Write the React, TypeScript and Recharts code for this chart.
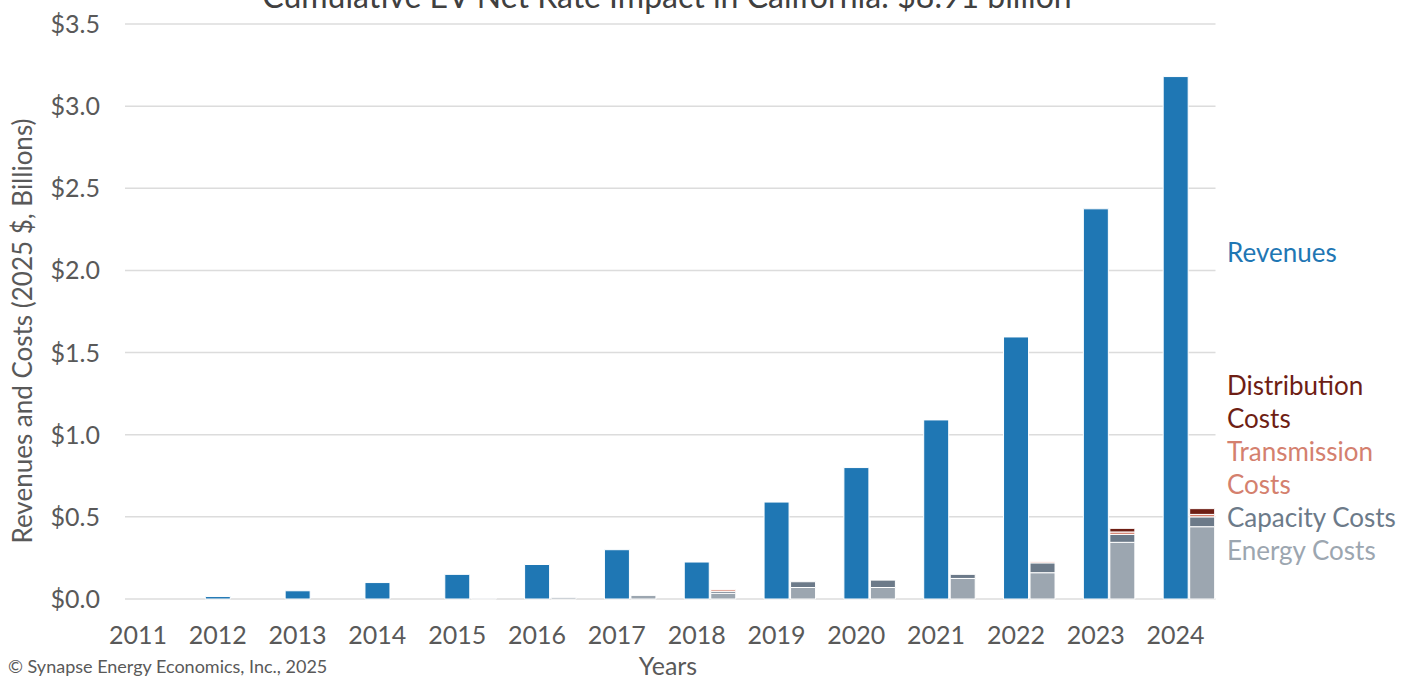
import { BarChart, Bar, XAxis, YAxis, CartesianGrid } from "recharts";

const years = ["2011", "2012", "2013", "2014", "2015", "2016", "2017", "2018", "2019", "2020", "2021", "2022", "2023", "2024"];
const revenues = [0, 0.015, 0.05, 0.1, 0.15, 0.21, 0.3, 0.225, 0.59, 0.8, 1.09, 1.595, 2.375, 3.18];
const energyCosts = [0, 0, 0, 0, 0.005, 0.01, 0.022, 0.035, 0.07, 0.07, 0.125, 0.16, 0.345, 0.44];
const capacityCosts = [0, 0, 0, 0, 0, 0, 0, 0.012, 0.035, 0.045, 0.025, 0.06, 0.048, 0.06];
const transmissionCosts = [0, 0, 0, 0, 0, 0, 0, 0.01, 0, 0, 0, 0.006, 0.015, 0.015];
const distributionCosts = [0, 0, 0, 0, 0, 0, 0, 0, 0, 0, 0, 0, 0.022, 0.035];
const yTicks = [0, 0.5, 1, 1.5, 2, 2.5, 3, 3.5];

const legendItems = [
  { lines: ["Revenues"], color: "#1f77b4", gapAfter: 100 },
  { lines: ["Distribution", "Costs"], color: "#6e1e14", gapAfter: 0 },
  { lines: ["Transmission", "Costs"], color: "#d4806e", gapAfter: 0 },
  { lines: ["Capacity Costs"], color: "#6c7a89", gapAfter: 0 },
  { lines: ["Energy Costs"], color: "#9ca6b0", gapAfter: 0 },
];

const data = years.map((year, i) => ({
  year,
  revenues: revenues[i],
  energy: energyCosts[i],
  capacity: capacityCosts[i],
  transmission: transmissionCosts[i],
  distribution: distributionCosts[i],
}));

const FONT = "Lato, 'Open Sans', sans-serif";
const GREY = "#595959";

const YTick = (props: any) => (
  <text x={props.x + 2} y={props.y} dy="0.36em" textAnchor="end" fill={GREY} fontSize={25} fontFamily={FONT}>
    ${props.payload.value.toFixed(1)}
  </text>
);

const XTick = (props: any) => (
  <text x={props.x} y={props.y + 45} textAnchor="middle" fill={GREY} fontSize={25} fontFamily={FONT}>
    {props.payload.value}
  </text>
);

const GridLine = (props: any) => (
  <line
    key={`grid-${props.index}`}
    x1={props.x1 + 27}
    x2={props.x2}
    y1={props.y1}
    y2={props.y2}
    stroke="#dcdcdc"
    strokeWidth={1.5}
  />
);

export default function App() {
  return (
    <div style={{ position: "absolute", left: 0, top: 0, width: 1419, height: 679, background: "#fff", overflow: "hidden" }}>
      <div
        style={{
          position: "absolute",
          left: 0,
          width: 1334,
          top: -24,
          textAlign: "center",
          fontFamily: FONT,
          fontSize: 32,
          color: "#404040",
          whiteSpace: "nowrap",
        }}
      >
        Cumulative EV Net Rate Impact in California: $8.91 billion
      </div>
      <BarChart
        width={1419}
        height={679}
        data={data}
        margin={{ top: 24, right: 203.5, bottom: 0, left: 0 }}
        barSize={25}
        barGap={1.5}
      >
        <CartesianGrid vertical={false} horizontal={GridLine} />
        <XAxis dataKey="year" height={80} axisLine={false} tickLine={false} tickSize={0} tickMargin={0} interval={0} tick={XTick} />
        <YAxis
          width={98}
          domain={[0, 3.5]}
          ticks={yTicks}
          axisLine={false}
          tickLine={false}
          tickSize={0}
          tickMargin={0}
          tick={YTick}
        />
        <Bar dataKey="spacer" stackId="spacer" fill="none" isAnimationActive={false} />
        <Bar dataKey="revenues" stackId="rev" name="Revenues" fill="#1f77b4" stroke="#fff" strokeWidth={1} isAnimationActive={false} />
        <Bar dataKey="energy" name="Energy Costs" stackId="costs" fill="#9ca6b0" stroke="#fff" strokeWidth={1} isAnimationActive={false} />
        <Bar dataKey="capacity" name="Capacity Costs" stackId="costs" fill="#6c7a89" stroke="#fff" strokeWidth={1} isAnimationActive={false} />
        <Bar dataKey="transmission" name="Transmission Costs" stackId="costs" fill="#d4806e" stroke="#fff" strokeWidth={1} isAnimationActive={false} />
        <Bar dataKey="distribution" name="Distribution Costs" stackId="costs" fill="#6e1e14" stroke="#fff" strokeWidth={1} isAnimationActive={false} />
      </BarChart>
      <div style={{ position: "absolute", left: 1227, top: 236, fontFamily: FONT, fontSize: 26, lineHeight: "33px" }}>
        {legendItems.map((item) => (
          <div key={item.lines[0]} style={{ color: item.color, marginBottom: item.gapAfter }}>
            {item.lines.map((l) => (
              <div key={l}>{l}</div>
            ))}
          </div>
        ))}
      </div>
      <div
        style={{
          position: "absolute",
          left: 0,
          top: 0,
          width: 44,
          height: 662,
          display: "flex",
          alignItems: "center",
          justifyContent: "center",
        }}
      >
        <div
          style={{
            transform: "rotate(-90deg)",
            whiteSpace: "nowrap",
            fontFamily: FONT,
            fontSize: 26,
            color: GREY,
          }}
        >
          Revenues and Costs (2025 $, Billions)
        </div>
      </div>
      <div style={{ position: "absolute", left: 0, width: 1336, top: 650, textAlign: "center", fontFamily: FONT, fontSize: 25, color: GREY }}>
        Years
      </div>
      <div style={{ position: "absolute", left: 8, top: 655, fontFamily: FONT, fontSize: 18, color: GREY }}>
        © Synapse Energy Economics, Inc., 2025
      </div>
    </div>
  );
}
